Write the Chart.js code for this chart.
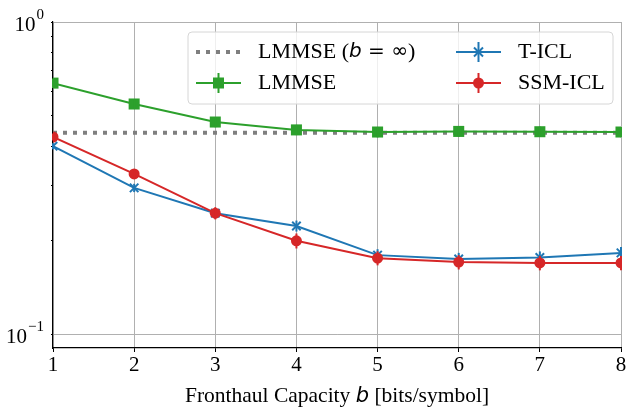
<!DOCTYPE html>
<html>
<head>
<meta charset="utf-8">
<script src="https://cdn.jsdelivr.net/npm/chart.js@4.4.1/dist/chart.umd.min.js"></script>
<style>
  html, body { margin: 0; padding: 0; background: #fff; }
  #wrap { width: 629px; height: 409px; }
</style>
</head>
<body>
<div id="wrap"><canvas id="myChart" width="629" height="409"></canvas></div>
<script>
// Capacidad de fronthaul (eje X)
const bits = [1, 2, 3, 4, 5, 6, 7, 8];

// MSE de cada método (eje Y, escala logarítmica)
const lmmseInf = [0.442, 0.442, 0.442, 0.442, 0.442, 0.442, 0.442, 0.442];
const lmmse    = [0.637, 0.546, 0.478, 0.451, 0.444, 0.446, 0.445, 0.444];
const ticl     = [0.400, 0.294, 0.244, 0.222, 0.179, 0.174, 0.176, 0.182];
const ssmicl   = [0.428, 0.326, 0.244, 0.199, 0.175, 0.170, 0.169, 0.169];

// Barras de error (+/-)
const lmmseErr  = [0.022, 0.020, 0.018, 0.017, 0.017, 0.017, 0.017, 0.017];
const ticlErr   = [0.009, 0.009, 0.009, 0.009, 0.008, 0.008, 0.008, 0.008];
const ssmiclErr = [0.011, 0.011, 0.011, 0.011, 0.009, 0.009, 0.009, 0.009];

// Etiquetas del eje Y: base y exponente
const yTickValues = [0.1, 1];
const yTickExps = ["−1", "0"];

const toPoints = vals => vals.map((v, i) => ({x: bits[i], y: v}));

const serif = "'Liberation Serif', 'DejaVu Serif', serif";
const isMajor = v => yTickValues.includes(v);

// Dibuja las barras de error de cada serie justo después de la serie
const errorBars = {
    id: "errorBars",
    afterDatasetDraw(chart, args) {
        const ds = chart.data.datasets[args.index];
        if (!ds.errors) return;
        const ctx = chart.ctx;
        const xs = chart.scales.x, ys = chart.scales.y;
        ctx.save();
        ctx.strokeStyle = ds.borderColor;
        ctx.lineWidth = 2;
        ds.data.forEach((p, i) => {
            const px = xs.getPixelForValue(p.x);
            const y1 = ys.getPixelForValue(p.y + ds.errors[i]);
            const y2 = ys.getPixelForValue(p.y - ds.errors[i]);
            ctx.beginPath();
            ctx.moveTo(px, y1);
            ctx.lineTo(px, y2);
            ctx.stroke();
        });
        ctx.restore();
    }
};

function drawMarker(ctx, style, x, y, r) {
    ctx.beginPath();
    if (style === "rect") {
        ctx.fillRect(x - r, y - r, 2 * r, 2 * r);
    } else if (style === "circle") {
        ctx.arc(x, y, r, 0, Math.PI * 2);
        ctx.fill();
    } else if (style === "crossRot") {
        ctx.moveTo(x - r, y - r);
        ctx.lineTo(x + r, y + r);
        ctx.moveTo(x - r, y + r);
        ctx.lineTo(x + r, y - r);
        ctx.stroke();
    }
}

// Leyenda dentro del área, etiquetas del eje Y y título del eje X
const customText = {
    id: "customText",
    afterDraw(chart) {
        const ctx = chart.ctx;
        const ds = chart.data.datasets;
        ctx.save();

        // etiquetas 10^n del eje Y
        const ys = chart.scales.y;
        const rightEdge = 44;
        yTickValues.forEach((v, i) => {
            const py = ys.getPixelForValue(v);
            ctx.font = "15px " + serif;
            const ew = ctx.measureText(yTickExps[i]).width;
            ctx.font = "21px " + serif;
            const bw = ctx.measureText("10").width;
            ctx.fillStyle = "#000";
            ctx.textBaseline = "alphabetic";
            ctx.fillText("10", rightEdge - ew - bw - 1, py + 9);
            ctx.font = "15px " + serif;
            ctx.fillText(yTickExps[i], rightEdge - ew, py - 3);
        });

        // caja de la leyenda
        const bx = 188, by = 32, bw = 425, bh = 72, r = 4;
        ctx.beginPath();
        ctx.moveTo(bx + r, by);
        ctx.arcTo(bx + bw, by, bx + bw, by + bh, r);
        ctx.arcTo(bx + bw, by + bh, bx, by + bh, r);
        ctx.arcTo(bx, by + bh, bx, by, r);
        ctx.arcTo(bx, by, bx + bw, by, r);
        ctx.closePath();
        ctx.fillStyle = "rgba(255,255,255,0.8)";
        ctx.fill();
        ctx.strokeStyle = "#d6d6d6";
        ctx.lineWidth = 1;
        ctx.stroke();

        const entries = [
            {ds: ds[0], x: 196, y: 52},
            {ds: ds[1], x: 196, y: 83},
            {ds: ds[2], x: 456, y: 52},
            {ds: ds[3], x: 456, y: 83}
        ];
        entries.forEach(e => {
            const d = e.ds;
            ctx.save();
            ctx.strokeStyle = d.borderColor;
            ctx.lineWidth = d.borderWidth;
            ctx.setLineDash(d.borderDash || []);
            ctx.beginPath();
            ctx.moveTo(e.x, e.y);
            ctx.lineTo(e.x + 45, e.y);
            ctx.stroke();
            ctx.setLineDash([]);
            const cx = e.x + 22.5;
            if (d.errors) {
                ctx.lineWidth = 2;
                ctx.beginPath();
                ctx.moveTo(cx, e.y - 10);
                ctx.lineTo(cx, e.y + 10);
                ctx.stroke();
            }
            if (d.legendMarker) {
                ctx.fillStyle = d.borderColor;
                ctx.lineWidth = 2;
                drawMarker(ctx, d.pointStyle, cx, e.y, d.legendMarker);
            }
            ctx.restore();

            ctx.fillStyle = "#000";
            ctx.textBaseline = "middle";
            let tx = e.x + 62;
            d.labelParts.forEach(part => {
                ctx.font = part.math ? (part.italic ? "italic " : "") + "20px 'DejaVu Sans'" : "22px " + serif;
                ctx.fillText(part.t, tx, e.y);
                tx += ctx.measureText(part.t).width;
            });
        });

        // título del eje X
        const parts = [
            {t: "Fronthaul Capacity ", italic: false},
            {t: "b", italic: true},
            {t: " [bits/symbol]", italic: false}
        ];
        const fontFor = p => p.italic ? "italic 21px 'DejaVu Sans'" : "21.5px " + serif;
        let total = 0;
        parts.forEach(p => { ctx.font = fontFor(p); total += ctx.measureText(p.t).width; });
        const area = chart.chartArea;
        let x = (area.left + area.right) / 2 - total / 2;
        ctx.fillStyle = "#000";
        ctx.textBaseline = "alphabetic";
        parts.forEach(p => {
            ctx.font = fontFor(p);
            ctx.fillText(p.t, x, 402);
            x += ctx.measureText(p.t).width;
        });
        ctx.restore();
    }
};

const ctx = document.getElementById("myChart").getContext("2d");
const myChart = new Chart(ctx, {
    type: "line",
    data: {
        datasets: [
            {
                label: "LMMSE (b = ∞)",
                labelParts: [
                    {t: "LMMSE ("},
                    {t: "b", math: true, italic: true},
                    {t: " = ∞", math: true},
                    {t: ")"}
                ],
                data: toPoints(lmmseInf),
                borderColor: "#7f7f7f",
                borderWidth: 4,
                borderDash: [4, 6],
                pointRadius: 0,
                order: 3
            },
            {
                label: "LMMSE",
                labelParts: [{t: "LMMSE"}],
                data: toPoints(lmmse),
                errors: lmmseErr,
                borderColor: "#2ca02c",
                backgroundColor: "#2ca02c",
                borderWidth: 2,
                pointStyle: "rect",
                pointRadius: 7.8,
                pointBorderWidth: 0,
                legendMarker: 5.5,
                order: 2
            },
            {
                label: "T-ICL",
                labelParts: [{t: "T-ICL"}],
                data: toPoints(ticl),
                errors: ticlErr,
                borderColor: "#1f77b4",
                backgroundColor: "#1f77b4",
                borderWidth: 2,
                pointStyle: "crossRot",
                pointRadius: 6,
                pointBorderWidth: 2,
                legendMarker: 4.5,
                order: 1
            },
            {
                label: "SSM-ICL",
                labelParts: [{t: "SSM-ICL"}],
                data: toPoints(ssmicl),
                errors: ssmiclErr,
                borderColor: "#d62728",
                backgroundColor: "#d62728",
                borderWidth: 2,
                pointStyle: "circle",
                pointRadius: 5.5,
                pointBorderWidth: 0,
                legendMarker: 5.5,
                order: 0
            }
        ]
    },
    options: {
        responsive: false,
        animation: false,
        layout: { padding: { left: 0, right: 6, top: 22, bottom: 0 } },
        plugins: {
            legend: { display: false },
            tooltip: { enabled: false }
        },
        scales: {
            x: {
                type: "linear",
                min: 1,
                max: 8,
                afterFit: s => { s.height = 61; },
                ticks: {
                    stepSize: 1,
                    color: "#000",
                    font: { family: serif, size: 21 },
                    padding: 1,
                    maxRotation: 0
                },
                grid: {
                    color: "#b0b0b0",
                    lineWidth: 1,
                    tickLength: 4,
                    tickColor: "#000"
                },
                border: { color: "#000", width: 1.2 }
            },
            y: {
                type: "logarithmic",
                min: 0.0902,
                max: 1,
                afterFit: s => { s.width = 53; },
                afterBuildTicks: s => {
                    s.ticks = [0.1, 0.2, 0.3, 0.4, 0.5, 0.6, 0.7, 0.8, 0.9, 1].map(v => ({value: v}));
                },
                ticks: {
                    autoSkip: false,
                    callback: () => ""
                },
                grid: {
                    color: c => (c.tick && isMajor(c.tick.value)) ? "#b0b0b0" : "rgba(0,0,0,0)",
                    lineWidth: 1,
                    tickLength: c => (c.tick && isMajor(c.tick.value)) ? 4 : 2,
                    tickColor: "#000",
                    tickWidth: 1
                },
                border: { color: "#000", width: 1.2 }
            }
        }
    },
    plugins: [errorBars, customText]
});
</script>
</body>
</html>
